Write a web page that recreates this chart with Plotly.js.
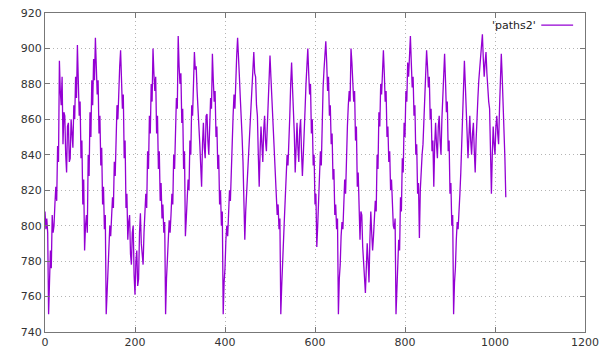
<!DOCTYPE html>
<html>
<head>
<meta charset="utf-8">
<script src="https://cdn.plot.ly/plotly-3.0.1.min.js"></script>
<style>html,body{margin:0;padding:0;background:#fff;}#chart{width:610px;height:362px;}</style>
</head>
<body>
<div id="chart"></div>
<script>
// samples are evenly spaced: x = xStart + i * xStep
const xStart = 0;
const xStep = 2;
const seriesName = "'paths2'";
const xTicks = [0, 200, 400, 600, 800, 1000, 1200];
const yTicks = [740, 760, 780, 800, 820, 840, 860, 880, 900, 920];

const seg1 = [808, 798, 804, 796, 750, 772, 786, 776, 806, 796, 800, 812, 822, 814, 845, 836, 893, 876, 868, 884, 846, 864, 862, 840, 830, 856, 858, 836, 838, 860, 852, 844, 868, 860, 884, 872, 902, 886, 862, 870, 838, 848, 812, 826, 786, 800, 806, 796, 840, 828, 864, 850, 882, 868, 894, 882, 906, 890, 874, 882, 852, 862, 834, 844, 812, 822, 798, 806, 750];
const seg2 = [762, 774, 790, 800, 794, 806, 816, 810, 836, 828, 856, 868, 860, 882, 890, 899, 884, 866, 874, 838, 848, 810, 818, 792, 802, 806, 784, 778, 796, 800, 772, 761, 780, 786, 766, 770, 796, 807, 790, 782, 778, 796, 806, 818, 810, 842, 832, 862, 852, 880, 870, 900, 886, 876, 884, 852, 862, 832, 842, 814, 824, 804, 812, 796, 802, 750];
const seg3 = [770, 778, 792, 803, 796, 806, 818, 812, 840, 832, 862, 872, 866, 907, 890, 880, 886, 858, 866, 832, 842, 794, 804, 812, 826, 820, 848, 840, 868, 862, 886, 898, 888, 890, 876, 868, 856, 846, 834, 822, 846, 858, 844, 838, 862, 863, 848, 840, 856, 872, 866, 897, 882, 870, 876, 850, 856, 832, 840, 812, 820, 800, 808, 750];
const seg4 = [768, 776, 792, 800, 794, 808, 820, 814, 838, 846, 862, 874, 866, 888, 896, 906, 890, 884, 872, 864, 850, 836, 812, 792, 808, 818, 830, 842, 850, 860, 870, 880, 892, 898, 886, 884, 868, 862, 840, 822, 842, 856, 846, 836, 854, 862, 848, 842, 856, 868, 884, 896, 884, 872, 858, 848, 836, 828, 816, 806, 812, 798, 804, 750];
const seg5 = [766, 776, 792, 804, 816, 830, 840, 834, 856, 862, 880, 892, 878, 868, 852, 830, 846, 858, 844, 836, 854, 860, 842, 828, 840, 850, 866, 880, 890, 900, 886, 874, 880, 852, 860, 834, 840, 812, 818, 788, 800, 812, 826, 842, 834, 866, 878, 888, 896, 904, 892, 876, 884, 862, 868, 846, 852, 826, 832, 806, 812, 798, 804, 750];
const seg6 = [770, 778, 794, 802, 798, 808, 826, 818, 848, 856, 868, 876, 870, 900, 892, 884, 870, 876, 848, 856, 822, 830, 800, 792, 808, 806, 788, 778, 770, 762, 776, 790, 780, 768, 792, 808, 796, 786, 794, 802, 814, 808, 840, 832, 864, 856, 880, 874, 894, 899, 886, 870, 876, 850, 856, 836, 842, 820, 826, 806, 800, 798, 804, 750];
const seg7 = [768, 776, 792, 786, 816, 808, 838, 830, 858, 850, 876, 870, 892, 884, 900, 907, 892, 878, 884, 862, 868, 840, 846, 818, 824, 793, 820, 834, 840, 846, 860, 874, 888, 899, 890, 878, 884, 860, 866, 842, 848, 822, 846, 858, 846, 838, 856, 862, 848, 840, 860, 874, 888, 897, 882, 864, 870, 842, 848, 818, 824, 800, 806, 750];
const seg8 = [768, 776, 792, 802, 798, 806, 818, 830, 846, 860, 878, 893, 880, 870, 852, 838, 850, 862, 848, 840, 852, 858, 842, 830, 848, 864, 872, 882, 890, 896, 902, 908, 894, 884, 892, 898, 886, 876, 870, 866, 840, 818, 840, 856, 846, 840, 856, 862, 852, 846, 866, 878, 897, 884, 872, 860, 838, 816];

const yValues = [].concat(seg1, seg2, seg3, seg4, seg5, seg6, seg7, seg8);

const trace = {
  type: 'scatter',
  mode: 'lines',
  name: seriesName,
  y: yValues,
  x0: xStart,
  dx: xStep,
  line: {color: '#9400D3', width: 1.3},
  showlegend: false,
  hoverinfo: 'skip'
};

const axisCommon = {
  showline: true,
  linecolor: '#777',
  linewidth: 1,
  mirror: 'ticks',
  ticks: 'inside',
  ticklen: 5,
  tickcolor: '#777',
  showgrid: true,
  gridcolor: '#b4b4b4',
  griddash: '1px,3px',
  gridwidth: 1,
  zeroline: false,
  tickfont: {family: 'DejaVu Sans, sans-serif', size: 11, color: '#333'}
};

const layout = {
  width: 610,
  height: 362,
  margin: {l: 45, r: 25, t: 13, b: 30},
  paper_bgcolor: '#ffffff',
  plot_bgcolor: '#ffffff',
  xaxis: Object.assign({}, axisCommon, {range: [0, 1200], tickmode: 'array', tickvals: xTicks, ticktext: xTicks.map(String)}),
  yaxis: Object.assign({}, axisCommon, {range: [740, 920], tickmode: 'array', tickvals: yTicks, ticktext: yTicks.map(String)}),
  annotations: [{
    xref: 'paper', yref: 'paper', x: 0.913, y: 0.962,
    xanchor: 'right', yanchor: 'middle',
    text: seriesName, showarrow: false,
    font: {family: 'DejaVu Sans, sans-serif', size: 11, color: '#222'}
  }],
  shapes: [{
    type: 'line', xref: 'paper', yref: 'paper',
    x0: 0.919, x1: 0.978, y0: 0.962, y1: 0.962,
    line: {color: '#9400D3', width: 1.3}
  }]
};

Plotly.newPlot('chart', [trace], layout, {staticPlot: true, displayModeBar: false});
</script>
</body>
</html>
